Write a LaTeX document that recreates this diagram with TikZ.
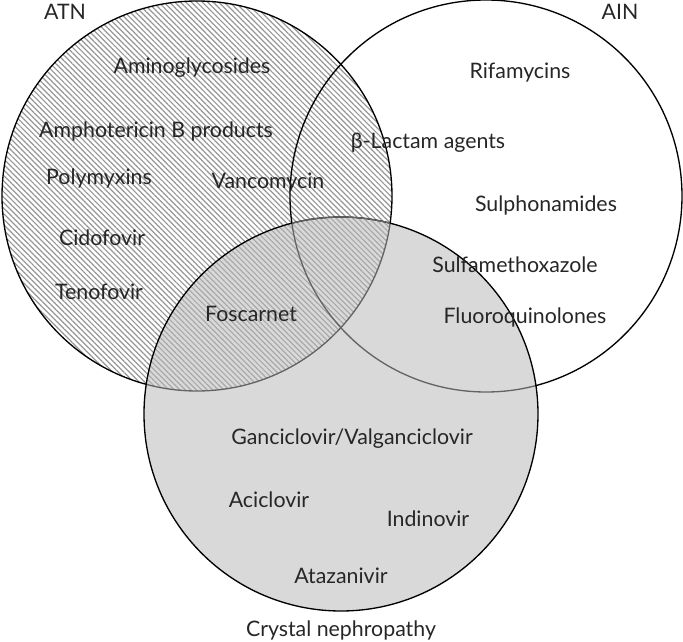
\documentclass[tikz,border=0pt]{standalone}
\usepackage{fontspec}
\setmainfont{Lato}
\usetikzlibrary{patterns.meta}
\definecolor{hatch}{RGB}{150,150,150}
\definecolor{crystal}{RGB}{185,185,185}
\definecolor{edgegrey}{RGB}{100,100,100}
\tikzset{drug/.style={font=\fontsize{16}{19}\selectfont, text=black!85, inner sep=0pt}}

\begin{document}
\begin{tikzpicture}[x=0.75pt, y=-0.75pt]%
\useasboundingbox (0,0) rectangle (683,642);%
% ATN circle, hatched
\fill[pattern={Lines[angle=-45, distance=2.9pt, line width=0.9pt]}, pattern color=hatch] (197,196) circle (146.25pt);%
\draw[line width=1pt] (197,196) circle (146.25pt);%
% AIN circle
\draw[line width=1pt] (486,196) circle (147pt);%
% crystal nephropathy circle, grey on top
\fill[crystal, fill opacity=0.54] (341,414) circle (147.75pt);%
\draw[line width=1pt] (341,414) circle (147.75pt);%
\begin{scope}%
\clip (197,196) circle (146.25pt);%
\clip (486,196) circle (147pt);%
\draw[line width=1pt, edgegrey] (341,414) circle (147.75pt);%
\end{scope}%
% group labels
\node[drug] (atn) at (65,12) {ATN};%
\node[drug] (ain) at (620,12) {AIN};%
\node[drug] (crys) at (341,630) {Crystal nephropathy};%
% drugs
\node[drug] (amino) at (192,68) {Aminoglycosides};%
\node[drug] (ampho) at (156,131) {Amphotericin B products};%
\node[drug] (polymyx) at (99,178) {Polymyxins};%
\node[drug] (vanco) at (268,183) {Vancomycin};%
\node[drug] (cido) at (102,238) {Cidofovir};%
\node[drug] (teno) at (99,292) {Tenofovir};%
\node[drug] (fosc) at (251,314) {Foscarnet};%
\node[drug] (lactam) at (428,143) {β-Lactam agents};%
\node[drug] (rifa) at (520,73) {Rifamycins};%
\node[drug] (sulpho) at (546,205) {Sulphonamides};%
\node[drug] (sulfa) at (515,265) {Sulfamethoxazole};%
\node[drug] (fluoro) at (525,317) {Fluoroquinolones};%
\node[drug] (ganci) at (352,439) {Ganciclovir/Valganciclovir};%
\node[drug] (aciclo) at (269,500) {Aciclovir};%
\node[drug] (indi) at (428,519) {Indinovir};%
\node[drug] (ataza) at (341,576) {Atazanivir};%
\end{tikzpicture}
\end{document}
